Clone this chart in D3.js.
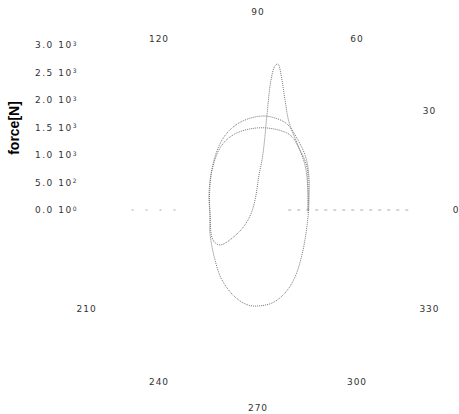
<!DOCTYPE html>
<html>
<head>
<meta charset="utf-8">
<script src="https://cdn.jsdelivr.net/npm/d3@7"></script>
<style>
  body { margin: 0; background: #fff; }
  text { font-family: "DejaVu Sans", sans-serif; }
</style>
</head>
<body>
<svg width="459" height="414"></svg>
<script>
const svg = d3.select("svg"),
    width = +svg.attr("width"),
    height = +svg.attr("height");

// polar trace: direction of the force (deg, ccw from 0) and its size (N)
const angleDeg = [356.6, 21.8, 41.3, 55.0, 66.9, 83.7, 99.2, 111.0, 121.5, 139.0, 163.0, 186.0,
  205.6, 229.3, 242.8, 255.2, 264.0, 270.0, 278.6, 288.0, 298.9, 318.4, 352.0,
  11.1, 32.1, 47.3, 60.3, 71.4, 79.5, 87.6, 98.2, 107.6, 117.2, 131.3, 152.5, 186.0,
  213.7, 222.6, 229.0, 225.0, 158.0, 97.6, 88.4, 85.4, 84.7, 84.6, 84.3, 83.3, 82.2,
  80.3, 76.2, 70.6, 59.8, 43.8, 21.8, 0.0];
const forceN = [911, 979, 1185, 1331, 1483, 1500, 1473, 1422, 1322, 1108, 932, 877,
  968, 1199, 1431, 1636, 1737, 1745, 1710, 1587, 1392, 1095, 918,
  945, 1095, 1287, 1466, 1650, 1701, 1710, 1653, 1564, 1431, 1211, 984, 877,
  983, 939, 554, 257, 98, 275, 637, 912, 1187, 1735, 2375, 2636, 2680,
  2490, 2060, 1696, 1409, 1183, 979, 909];

// radial ticks and angle labels
const rTicks = [0, 500, 1000, 1500, 2000, 2500, 3000];
const rTickMant = ["0.0", "5.0", "1.0", "1.5", "2.0", "2.5", "3.0"];
const rTickExp = ["0", "2", "3", "3", "3", "3", "3"];
const angleTicks = [0, 30, 60, 90, 120, 210, 240, 270, 300, 330];

const cx = 258, cy = 210;
const r = d3.scaleLinear().domain([0, 3000]).range([0, 165]);
const rad = d => (90 - d) * Math.PI / 180;   // math angle -> d3 radial angle

const g = svg.append("g").attr("transform", `translate(${cx},${cy})`);

// faint grid fragments on the 0-180 axis
g.append("line")
    .attr("x1", r(550)).attr("x2", r(2800))
    .attr("y1", 0).attr("y2", 0)
    .style("stroke", "#aaa")
    .style("stroke-width", 1)
    .style("stroke-dasharray", "3,6");
g.append("line")
    .attr("x1", -r(1500)).attr("x2", -r(2300))
    .attr("y1", 0).attr("y2", 0)
    .style("stroke", "#aaa")
    .style("stroke-width", 1)
    .style("stroke-dasharray", "2,12");

// force trace
const line = d3.lineRadial()
    .angle((d, i) => rad(angleDeg[i]))
    .radius((d, i) => r(forceN[i]))
    .curve(d3.curveCatmullRom);

g.append("path")
    .attr("d", line(forceN))
    .style("fill", "none")
    .style("stroke", "#777")
    .style("stroke-width", 1)
    .style("stroke-dasharray", "1,1");

// angle labels
g.selectAll(".alab")
  .data(angleTicks)
  .join("text")
    .attr("class", "alab")
    .attr("x", d => 198 * Math.cos(d * Math.PI / 180))
    .attr("y", d => -198 * Math.sin(d * Math.PI / 180))
    .attr("dy", "0.35em")
    .attr("text-anchor", "middle")
    .style("font-size", "9px")
    .style("letter-spacing", "1px")
    .style("fill", "#333")
    .text(d => d);

// radial scale shown as a vertical axis on the left
const yl = svg.append("g");
const lab = yl.selectAll("text")
  .data(rTicks)
  .join("text")
    .attr("x", 35)
    .attr("y", d => cy - r(d))
    .attr("dy", "0.35em")
    .style("font-size", "9px")
    .style("letter-spacing", "1.5px")
    .style("fill", "#333");
lab.append("tspan").text((d, i) => rTickMant[i] + " 10");
lab.append("tspan")
    .attr("dy", "-0.4em")
    .style("font-size", "6px")
    .text((d, i) => rTickExp[i]);

svg.append("text")
    .attr("transform", "translate(19,128) rotate(-90)")
    .attr("text-anchor", "middle")
    .style("font-family", "Liberation Sans, Arial, sans-serif")
    .style("font-size", "14px")
    .style("font-weight", "bold")
    .text("force[N]");
</script>
</body>
</html>
